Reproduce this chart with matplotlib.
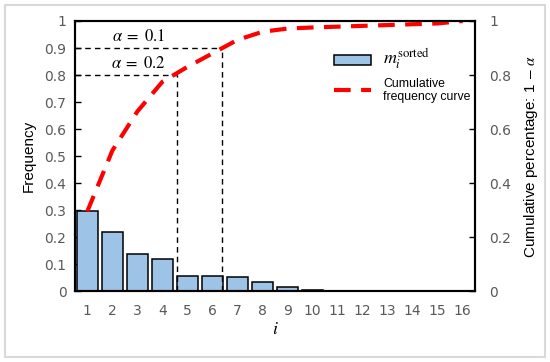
import numpy as np
import matplotlib.pyplot as plt
from matplotlib.patches import Rectangle

# Data
idx = list(range(1, 17))
freq = [0.295, 0.218, 0.138, 0.118, 0.055, 0.055, 0.052, 0.033,
        0.015, 0.004, 0.001, 0.0005, 0.0005, 0.0005, 0.0005, 0.0005]
cum = [0.295, 0.52, 0.665, 0.775, 0.83, 0.88, 0.93, 0.96,
       0.972, 0.976, 0.979, 0.982, 0.985, 0.988, 0.991, 1.0]
cut_x = [4.6, 6.4]
cut_y = [0.8, 0.9]
cut_labels = [r'$\alpha\;=\;0.2$', r'$\alpha\;=\;0.1$']

plt.rcParams['mathtext.fontset'] = 'stix'
tick_gray = '#595959'

fig = plt.figure(figsize=(5.5, 3.62), dpi=100)
ax = fig.add_axes([0.136, 0.196, 0.728, 0.746])

bars = ax.bar(idx, freq, width=0.85, color='#9DC3E6', edgecolor='black',
              linewidth=1.1, zorder=2)

# dashed guide lines
for xv, yv, lab in zip(cut_x, cut_y, cut_labels):
    ax.plot([0.5, xv], [yv, yv], color='black', ls=(0, (4, 3)), lw=1, zorder=3)
    ax.plot([xv, xv], [0, yv], color='black', ls=(0, (4, 3)), lw=1, zorder=3)
    ax.text(3.05, yv + 0.012, lab, ha='center', va='bottom', fontsize=12)

line, = ax.plot(idx, cum, color='red', lw=3, ls=(0, (4, 2.5)), zorder=4)

ax.set_xlim(0.5, 16.5)
ax.set_ylim(0, 1)
ax.set_xticks(idx)
ax.set_yticks(np.arange(0, 1.01, 0.1))
ax.set_yticklabels(['0', '0.1', '0.2', '0.3', '0.4', '0.5', '0.6', '0.7', '0.8', '0.9', '1'])
ax.tick_params(axis='x', length=0, pad=9, labelsize=10, labelcolor=tick_gray)
ax.tick_params(axis='y', direction='in', length=4, width=1, pad=6,
               labelsize=10, labelcolor=tick_gray)
for s in ax.spines.values():
    s.set_linewidth(1.5)

ax.set_ylabel('Frequency', fontsize=11, family='Liberation Sans', labelpad=6)
ax.set_xlabel(r'$i$', fontsize=13, labelpad=2)

ax2 = ax.twinx()
ax2.set_ylim(0, 1)
ax2.set_yticks([0, 0.2, 0.4, 0.6, 0.8, 1.0])
ax2.set_yticklabels(['0', '0.2', '0.4', '0.6', '0.8', '1'])
ax2.tick_params(axis='y', direction='in', length=4, width=1, pad=10,
                labelsize=10, labelcolor=tick_gray)
for s in ax2.spines.values():
    s.set_linewidth(1.5)
ax2.set_ylabel(r'Cumulative percentage: 1 $-$ $\alpha$', fontsize=11,
               family='Liberation Sans', labelpad=8)

leg = ax.legend([bars, line], [r'$m_i^{\mathrm{sorted}}$', 'Cumulative\nfrequency curve'],
                loc='upper left', bbox_to_anchor=(0.62, 0.945), frameon=False,
                prop={'family': 'Liberation Sans', 'size': 8.8},
                handlelength=3.0, handleheight=0.9, labelspacing=0.5,
                handletextpad=1.0)
leg.get_texts()[0].set_fontsize(13)

# light gray outer frame
fig.patches.append(Rectangle((0.009, 0.014), 0.982, 0.972, transform=fig.transFigure,
                             fill=False, edgecolor='#D9D9D9', lw=1.5))

fig.savefig('out.png', dpi=100)
